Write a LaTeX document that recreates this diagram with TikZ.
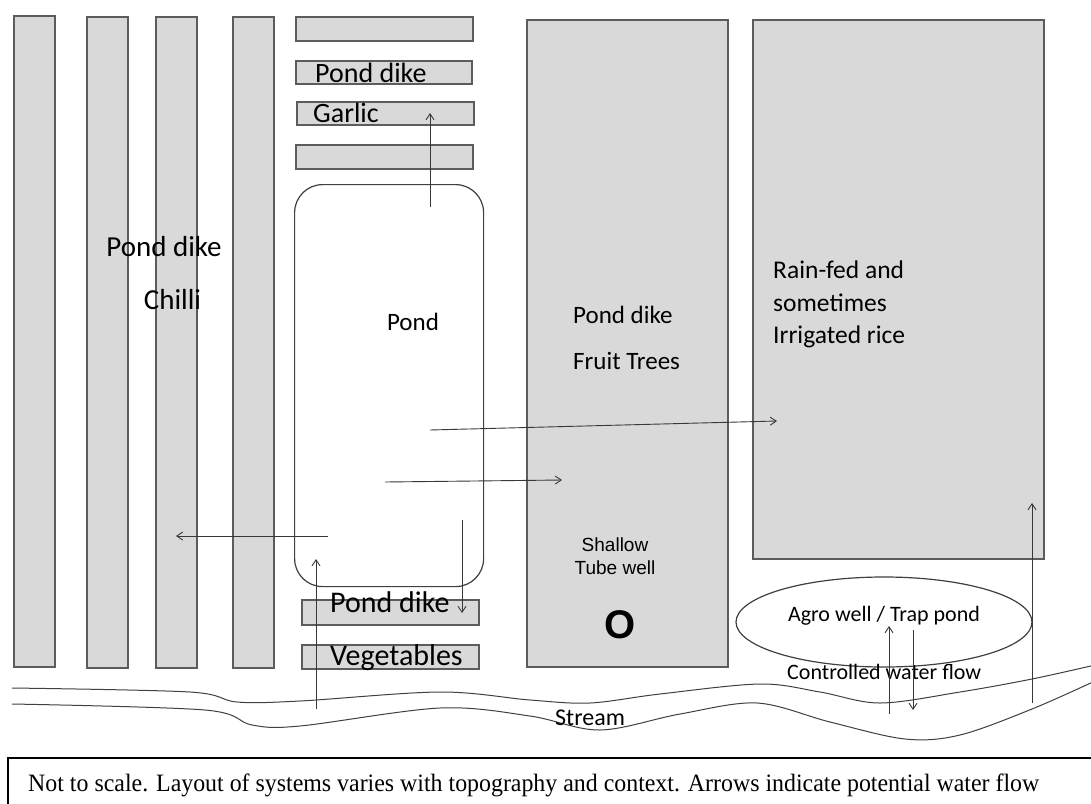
\documentclass[tikz,border=0pt]{standalone}
\usepackage{fontspec}
\setmainfont{Liberation Serif}
\newfontfamily\calfont{Carlito}
\newfontfamily\arialfont{Liberation Sans}
\usetikzlibrary{arrows.meta,shapes.geometric}
\definecolor{boxfill}{gray}{0.85}
\definecolor{boxline}{gray}{0.36}
\definecolor{flowline}{gray}{0.22}
\begin{document}
\begin{tikzpicture}[x=1pt,y=-1pt,
  stripbox/.style={draw=boxline, fill=boxfill, line width=1.3pt, inner sep=0pt, outer sep=0pt, anchor=north west},
  flow/.style={draw=flowline, line width=0.9pt, -{Straight Barb[length=6pt,width=8pt]}},
  lbl/.style={inner sep=0pt, anchor=base},
  lblw/.style={inner sep=0pt, anchor=base west},
  streamline/.style={draw=black!75, line width=1pt}
]
\useasboundingbox (0,0) rectangle (1091,803);
\fill[white] (0,0) rectangle (1091,803);

% left vertical strips
\node[stripbox, minimum width=41, minimum height=651] (s1) at (14,16) {};
\node[stripbox, minimum width=41, minimum height=651] (s2) at (87,17) {};
\node[stripbox, minimum width=41, minimum height=651] (s3) at (156,17) {};
\node[stripbox, minimum width=41, minimum height=651] (s4) at (233,17) {};

% top horizontal strips
\node[stripbox, minimum width=177, minimum height=24] (t1) at (296,17) {};
\node[stripbox, minimum width=176, minimum height=23] (t2) at (296,61) {};
\node[stripbox, minimum width=177, minimum height=23] (t3) at (297,102) {};
\node[stripbox, minimum width=177, minimum height=24] (t4) at (296,145) {};

% bottom horizontal strips
\node[stripbox, minimum width=177, minimum height=25] (b1) at (302,600) {};
\node[stripbox, minimum width=177, minimum height=24] (b2) at (302,645) {};

% big boxes
\node[stripbox, minimum width=201, minimum height=647] (fruit) at (527,20) {};
\node[stripbox, minimum width=291, minimum height=539] (rice) at (753,20) {};

% pond
\node[draw=black!75, fill=white, line width=1.2pt, rounded corners=28pt, minimum width=189, minimum height=402, anchor=north west, inner sep=0pt] (pond) at (294,184) {};

% agro well ellipse
\node[draw=black!75, line width=1.2pt, ellipse, minimum width=296, minimum height=90, inner sep=0pt] (agro) at (884,622) {};

% stream
\draw[streamline] plot[smooth, tension=0.55] coordinates {(12,688) (190,692) (237,702) (300,701) (440,692) (530,700) (590,703) (660,694) (760,684) (820,692) (880,703) (960,692) (1032,679) (1095,665)};
\draw[streamline] plot[smooth, tension=0.55] coordinates {(12,704) (205,710) (252,725) (300,726) (440,708) (530,716) (600,730) (680,714) (757,703) (830,722) (905,739) (960,735) (1032,709) (1095,681)};

% labels
\node[lbl, font=\calfont\fontsize{29}{34}\selectfont] (lpd) at (164,256) {Pond dike};
\node[lbl, font=\calfont\fontsize{29}{34}\selectfont] (lch) at (172.5,309) {Chilli};
\node[lblw, font=\calfont\fontsize{28}{33}\selectfont] (tpd) at (315,82) {Pond dike};
\node[lblw, font=\calfont\fontsize{28}{33}\selectfont] (tga) at (313,122) {Garlic};
\node[lblw, font=\calfont\fontsize{30}{35}\selectfont] (bpd) at (330,612) {Pond dike};
\node[lblw, font=\calfont\fontsize{30}{35}\selectfont] (bve) at (330,665) {Vegetables};
\node[lbl, font=\calfont\fontsize{25}{30}\selectfont] (pondlbl) at (413,330) {Pond};
\node[lblw, font=\calfont\fontsize{25}{30}\selectfont] (fpd) at (573,323) {Pond dike};
\node[lblw, font=\calfont\fontsize{25}{30}\selectfont] (fft) at (573,369) {Fruit Trees};
\node[lblw, font=\calfont\fontsize{25.5}{30}\selectfont] (r1) at (773,278) {Rain-fed and};
\node[lblw, font=\calfont\fontsize{25.5}{30}\selectfont] (r2) at (773,311) {sometimes};
\node[lblw, font=\calfont\fontsize{25.5}{30}\selectfont] (r3) at (773,343) {Irrigated rice};
\node[lbl, font=\arialfont\fontsize{19}{23}\selectfont] (sh1) at (615,551) {Shallow};
\node[lbl, font=\arialfont\fontsize{19}{23}\selectfont] (sh2) at (615,574) {Tube well};
\node[inner sep=0pt, font=\arialfont\bfseries\fontsize{40}{44}\selectfont] (well) at (620,625) {O};
\node[lbl, font=\calfont\fontsize{22}{26}\selectfont] (agrolbl) at (884,621) {Agro well / Trap pond};
\node[lblw, font=\calfont\fontsize{22}{26}\selectfont] (ctrl) at (787,679) {Controlled water flow};
\node[lblw, font=\calfont\fontsize{24}{28}\selectfont] (strm) at (555,725) {Stream};

% flow arrows
\coordinate (a1s) at (430,207); \coordinate (a1e) at (430,113);
\coordinate (a2s) at (430,430); \coordinate (a2e) at (777,421);
\coordinate (a3s) at (385,482); \coordinate (a3e) at (562,480);
\coordinate (a4s) at (328,536); \coordinate (a4e) at (176,536);
\coordinate (a5s) at (316,709); \coordinate (a5e) at (316,559);
\coordinate (a6s) at (462,520); \coordinate (a6e) at (462,613);
\coordinate (a7s) at (889,714); \coordinate (a7e) at (889,626);
\coordinate (a8s) at (913,630); \coordinate (a8e) at (913,710);
\coordinate (a9s) at (1032,703); \coordinate (a9e) at (1032,503);
\draw[flow] (a1s) -- (a1e);
\draw[flow] (a2s) -- (a2e);
\draw[flow] (a3s) -- (a3e);
\draw[flow] (a4s) -- (a4e);
\draw[flow] (a5s) -- (a5e);
\draw[flow] (a6s) -- (a6e);
\draw[flow] (a7s) -- (a7e);
\draw[flow] (a8s) -- (a8e);
\draw[flow] (a9s) -- (a9e);

% caption box
\coordinate (capTR) at (1100,758);
\coordinate (capBL) at (8,812);
\draw[line width=2pt] (capTR) -- (8,758) -- (capBL);
\node[lblw, font=\fontsize{25}{29}\selectfont] (caption) at (28,791) {\scalebox{0.955}[1]{Not to scale. Layout of systems varies with topography and context. Arrows indicate potential water flow}};
\end{tikzpicture}
\end{document}
